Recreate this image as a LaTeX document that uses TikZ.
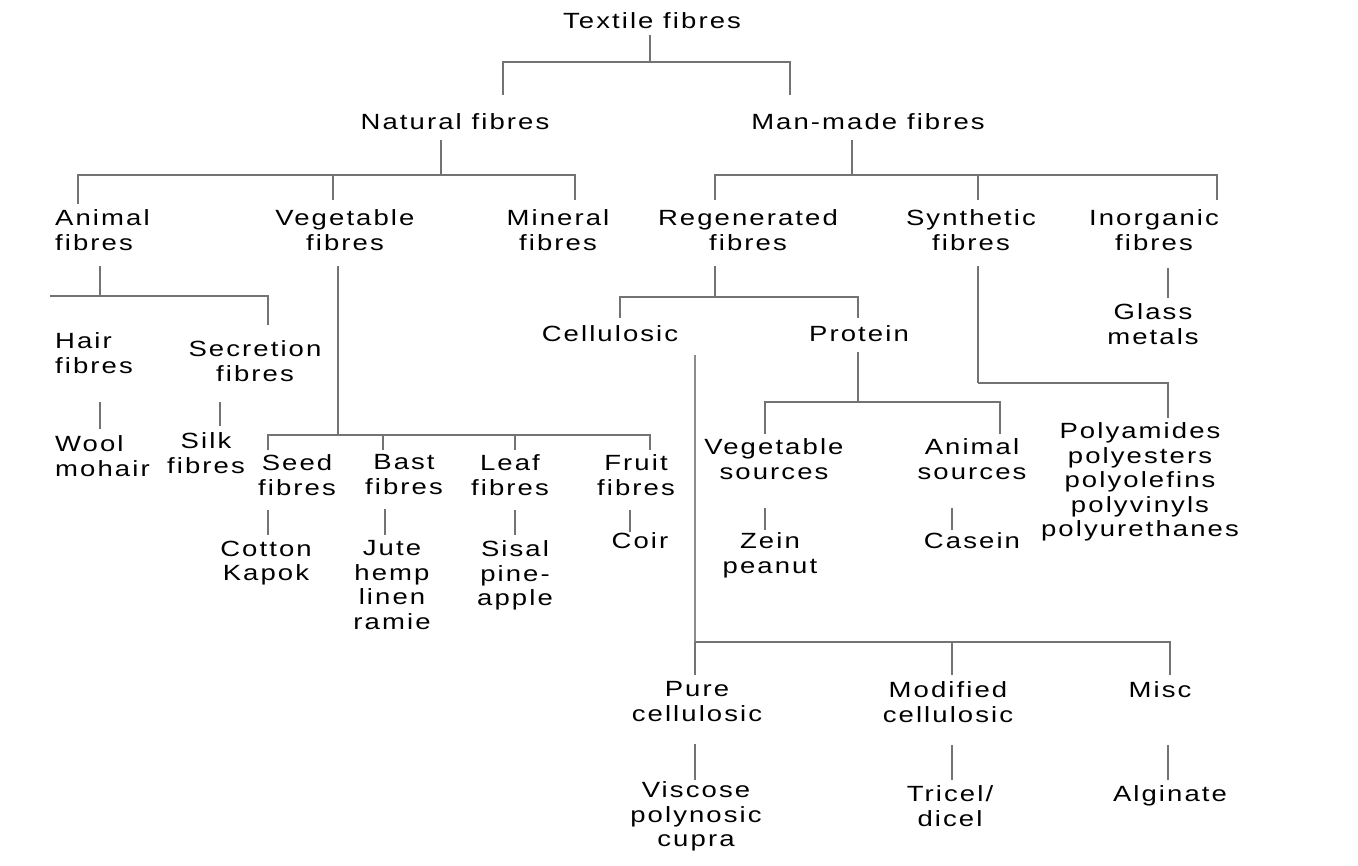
\documentclass[tikz,border=0pt]{standalone}
\usepackage{fontspec}
\setmainfont{Liberation Sans}[FakeStretch=1.25,LetterSpace=9.5]

\begin{document}
\begin{tikzpicture}[
  x=1pt, y=1pt,
  fib/.style={align=center, anchor=north, inner sep=0pt, yshift=-4pt,
    font=\fontsize{22}{24.5}\selectfont,
    execute at end node={\rule[-4.4pt]{0pt}{4.4pt}}},
  fibl/.style={fib, align=left, anchor=north west},
  link/.style={draw=black!55, line width=2.2pt}
  ]
   \useasboundingbox (0,0) rectangle (1358,-866);

   \node (tex) [fib] at (652,-8.5) {Textile fibres};
   \node (nat) [fib] at (455,-109.5) {Natural fibres};
   \node (man) [fib] at (868,-109.5) {Man-made fibres};

   \node (ani) [fibl] at (55,-205.5) {Animal\\fibres};
   \node (veg) [fib] at (345,-205.5) {Vegetable\\fibres};
   \node (min) [fib] at (558,-205.5) {Mineral\\fibres};
   \node (reg) [fib] at (748,-205.5) {Regenerated\\fibres};
   \node (syn) [fib] at (971,-205.5) {Synthetic\\fibres};
   \node (ino) [fib] at (1154,-205.5) {Inorganic\\fibres};

   \node (hai) [fibl] at (55,-328.5) {Hair\\fibres};
   \node (sec) [fib] at (255,-336.5) {Secretion\\fibres};
   \node (woo) [fibl] at (55,-431.5) {Wool\\mohair};
   \node (sil) [fib] at (206,-428.5) {Silk\\fibres};

   \node (see) [fib] at (297,-450.5) {Seed\\fibres};
   \node (bas) [fib] at (404,-450.5) {Bast\\fibres};
   \node (lea) [fib] at (510,-450.5) {Leaf\\fibres};
   \node (fru) [fib] at (636,-450.5) {Fruit\\fibres};
   \node (cot) [fib] at (266,-536.5) {Cotton\\Kapok};
   \node (jut) [fib] at (392,-536.5) {Jute\\hemp\\linen\\ramie};
   \node (sis) [fib] at (515,-536.5) {Sisal\\pine-\\apple};
   \node (coi) [fib] at (640,-528.5) {Coir};

   \node (cel) [fib] at (610,-321.5) {Cellulosic};
   \node (pro) [fib] at (859,-321.5) {Protein};
   \node (vso) [fib] at (774,-434.5) {Vegetable\\sources};
   \node (aso) [fib] at (972,-434.5) {Animal\\sources};
   \node (zei) [fib] at (770,-528.5) {Zein\\peanut};
   \node (cas) [fib] at (972,-528.5) {Casein};

   \node (gla) [fib] at (1153,-299.5) {Glass\\metals};
   \node (pol) [fib] at (1140,-418.5) {Polyamides\\polyesters\\polyolefins\\polyvinyls\\polyurethanes};

   \node (pur) [fib] at (697,-677.5) {Pure\\cellulosic};
   \node (mod) [fib] at (948,-677.5) {Modified\\cellulosic};
   \node (mis) [fib] at (1160,-677.5) {Misc};
   \node (vis) [fib] at (696,-777.5) {Viscose\\polynosic\\cupra};
   \node (tri) [fib] at (950,-781.5) {Tricel/\\dicel};
   \node (alg) [fib] at (1170,-781.5) {Alginate};

   % top levels
   \draw [link] ([xshift=-2pt,yshift=-2pt]tex.south) -- ++(0,-27) coordinate (texbar);
   \draw [link] (texbar) -| ([xshift=48pt,yshift=18pt]nat.north);
   \draw [link] (texbar) -| ([xshift=-78pt,yshift=18pt]man.north);

   \draw [link] ([xshift=-14pt,yshift=-6pt]nat.south) -- ++(0,-35) coordinate (natbar);
   \draw [link] (natbar) -| ([xshift=23pt,yshift=5pt]ani.north west);
   \draw [link] (natbar) -| ([xshift=-12pt,yshift=9pt]veg.north);
   \draw [link] (natbar) -| ([xshift=17pt,yshift=9pt]min.north);

   \draw [link] ([xshift=-16pt,yshift=-6pt]man.south) -- ++(0,-35) coordinate (manbar);
   \draw [link] (manbar) -| ([xshift=-33pt,yshift=9pt]reg.north);
   \draw [link] (manbar) -| ([xshift=7pt,yshift=9pt]syn.north);
   \draw [link] (manbar) -| ([xshift=63pt,yshift=9pt]ino.north);

   % natural
   \draw [link] ([xshift=45pt,yshift=-11.5pt]ani.south west) -- ++(0,-30) coordinate (anibar);
   \draw [link] (anibar) -- ++(-50,0);
   \draw [link] (anibar) -| ([xshift=13pt,yshift=15.5pt]sec.north);
   \draw [link] ([xshift=45pt,yshift=-24pt]hai.south west) -- ([xshift=45pt,yshift=6pt]woo.north west);
   \draw [link] ([xshift=-35pt,yshift=-16.5pt]sec.south) -- ([xshift=14pt,yshift=6pt]sil.north);

   \draw [link] ([xshift=-7pt,yshift=-11.5pt]veg.south) -- ++(0,-169) coordinate (vegbar);
   \draw [link] (vegbar) -| ([xshift=-29pt,yshift=4pt]see.north);
   \draw [link] (vegbar) -| ([xshift=-21pt,yshift=4pt]bas.north);
   \draw [link] (vegbar) -| ([xshift=5pt,yshift=4pt]lea.north);
   \draw [link] (vegbar) -| ([xshift=14pt,yshift=4pt]fru.north);
   \draw [link] ([xshift=-29pt,yshift=-10.5pt]see.south) -- ([xshift=2pt,yshift=5.5pt]cot.north);
   \draw [link] ([xshift=-19pt,yshift=-10.5pt]bas.south) -- ([xshift=-7pt,yshift=5.5pt]jut.north);
   \draw [link] ([xshift=5pt,yshift=-10.5pt]lea.south) -- ([yshift=5.5pt]sis.north);
   \draw [link] ([xshift=-6pt,yshift=-10.5pt]fru.south) -- ([xshift=-10pt,yshift=0.5pt]coi.north);

   % man-made
   \draw [link] ([xshift=-33pt,yshift=-11.5pt]reg.south) -- ++(0,-31) coordinate (regbar);
   \draw [link] (regbar) -| ([xshift=10pt,yshift=7.5pt]cel.north);
   \draw [link] (regbar) -| ([xshift=-1pt,yshift=7.5pt]pro.north);

   \draw [link, line width=2.8pt, draw=black!45] ([xshift=85pt,yshift=-9pt]cel.south) -- ++(0,-287) coordinate (celbar);
   \draw [link] (celbar) -| ([xshift=-2pt,yshift=6.5pt]pur.north);
   \draw [link] (celbar) -| ([xshift=4pt,yshift=6.5pt]mod.north);
   \draw [link] (celbar) -| ([xshift=10pt,yshift=6.5pt]mis.north);
   \draw [link] ([xshift=-2pt,yshift=-18.5pt]pur.south) -- ([xshift=-1pt,yshift=1.5pt]vis.north);
   \draw [link] ([xshift=4pt,yshift=-18.5pt]mod.south) -- ([xshift=2pt,yshift=5.5pt]tri.north);
   \draw [link] ([xshift=8pt,yshift=-43pt]mis.south) -- ([xshift=-2pt,yshift=5.5pt]alg.north);

   \draw [link] ([xshift=-1pt,yshift=-6pt]pro.south) -- ++(0,-50) coordinate (probar);
   \draw [link] (probar) -| ([xshift=-9pt,yshift=4pt]vso.north);
   \draw [link] (probar) -| ([xshift=28pt,yshift=4pt]aso.north);
   \draw [link] ([xshift=-9pt,yshift=-24.5pt]vso.south) -- ([xshift=-5pt,yshift=2.5pt]zei.north);
   \draw [link] ([xshift=-20pt,yshift=-24.5pt]aso.south) -- ([xshift=-20pt,yshift=2.5pt]cas.north);

   \draw [link] ([xshift=7pt,yshift=-11.5pt]syn.south) -- ++(0,-117) coordinate (synbar);
   \draw [link] (synbar) -| ([xshift=28pt,yshift=4pt]pol.north);
   \draw [link] ([xshift=14pt,yshift=-13.5pt]ino.south) -- ([xshift=15pt,yshift=5.5pt]gla.north);

\end{tikzpicture}
\end{document}
